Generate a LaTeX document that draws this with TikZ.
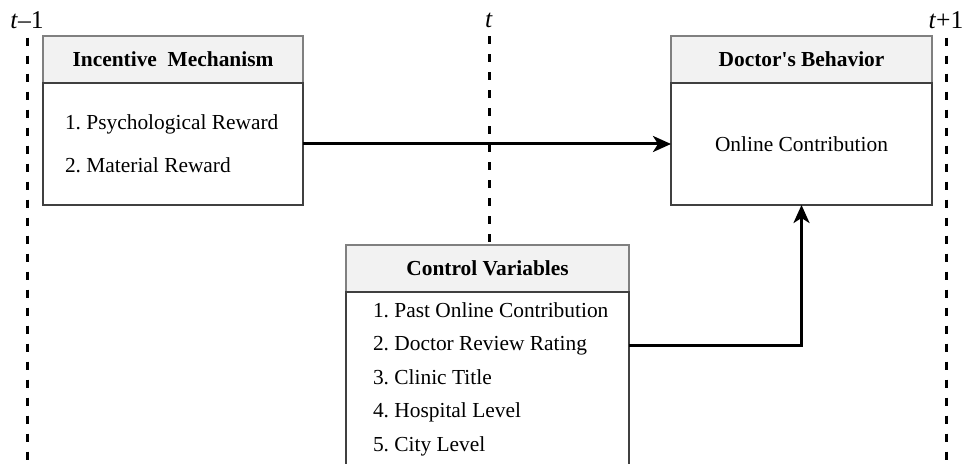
\documentclass[tikz,border=0pt]{standalone}
\usepackage{fontspec}
\setmainfont{Liberation Serif}
\usetikzlibrary{positioning,arrows.meta}
\frenchspacing

\begin{document}
\begin{tikzpicture}[x=0.5pt,y=-0.5pt,
  every node/.style={font=\fontsize{10.7}{12.8}\selectfont, outer sep=0pt},
  headbox/.style={draw=black!50, fill=black!5, line width=1.3pt, minimum height=23.5pt,
    font=\fontsize{10.7}{12.8}\selectfont\bfseries},
  bodybox/.style={draw=black!75, line width=1.3pt, fill=white},
  itemtext/.style={anchor=base west, inner sep=0pt},
  timelabel/.style={font=\fontsize{12.8}{14}\selectfont, inner sep=1pt},
  timeline/.style={line width=1.5pt, dash pattern=on 4pt off 5pt, shorten <=3.5pt},
  arr/.style={line width=1.5pt, -{Stealth[length=9pt,width=8pt,inset=2.5pt]}}]
\useasboundingbox (0,0) rectangle (962,464);
\clip (0,0) rectangle (962,464);

% time points
\node[timelabel] (tprev) at (27,20) {\textit{t}--1};
\node[timelabel] (tnow) at (489,20) {\textit{t}};
\node[timelabel] (tnext) at (946,20) {\textit{t}+1};
\coordinate (prevend) at (27,470);
\coordinate (nextend) at (946,470);

% incentive mechanism
\node[headbox, minimum width=130pt] (inchead) at (173,59.5) {Incentive\ \ Mechanism};
\node[bodybox, minimum width=130pt, minimum height=61pt, below=0pt of inchead] (incbody) {};
\node[itemtext] (i1) at (65,130) {1. Psychological Reward};
\node[itemtext] (i2) at (65,173) {2. Material Reward};

% doctor's behavior
\node[headbox, minimum width=130.5pt] (dochead) at (801.5,59.5) {Doctor\textquotesingle s Behavior};
\node[bodybox, minimum width=130.5pt, minimum height=61pt, below=0pt of dochead] (docbody) {Online Contribution};

% control variables
\node[headbox, minimum width=141.5pt] (ctrlhead) at (487.5,268.5) {Control Variables};
\node[bodybox, minimum width=141.5pt, minimum height=94pt, below=0pt of ctrlhead] (ctrlbody) {};
\foreach \txt [count=\k] in {Past Online Contribution, Doctor Review Rating, Clinic Title, Hospital Level, City Level}
  \node[itemtext] (c\k) at (373,{317+33.5*(\k-1)}) {\k. \txt};

% time lines
\draw[timeline] (tprev.south) -- (prevend);
\draw[timeline] (tnow.south) -- (tnow |- ctrlhead.north);
\draw[timeline] (tnext.south) -- (nextend);

% effects
\draw[arr] (incbody.east) -- (docbody.west);
\draw[arr] (c2 -| ctrlbody.east) -| (docbody.south);
\end{tikzpicture}
\end{document}
